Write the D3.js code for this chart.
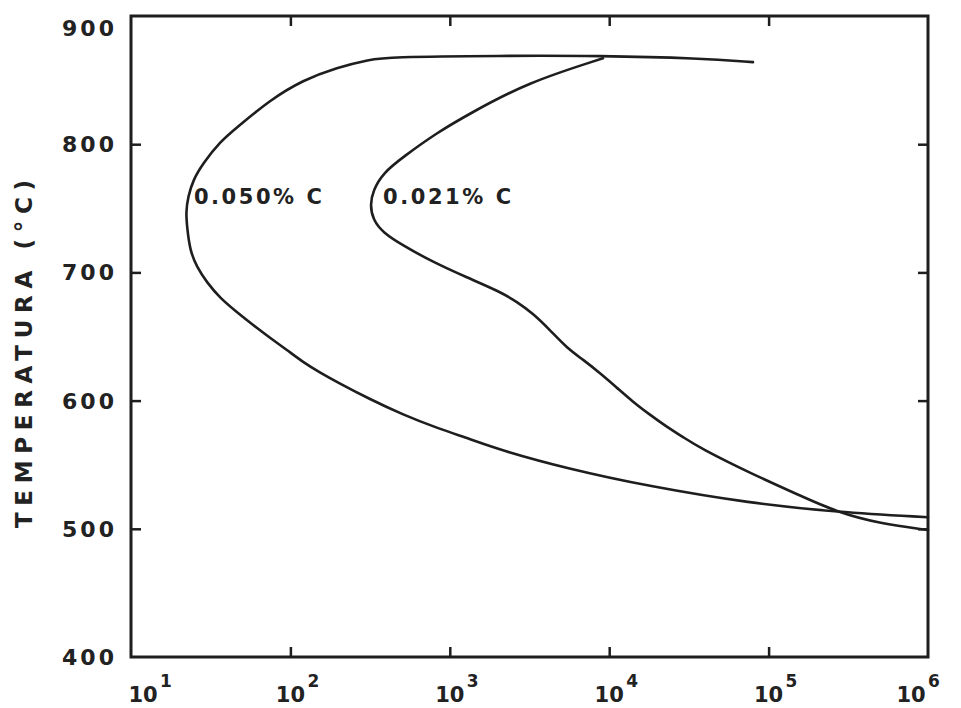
<!DOCTYPE html>
<html>
<head>
<meta charset="utf-8">
<script src="https://cdn.jsdelivr.net/npm/d3@7"></script>
<style>
  html, body { margin: 0; padding: 0; background: #fff; }
  svg { display: block; }
  text { font-family: "DejaVu Sans", "Liberation Sans", sans-serif; font-weight: bold; fill: #222; }
</style>
</head>
<body>
<svg id="chart" width="961" height="708"></svg>
<script>
// Isothermal transformation curves (time on a log scale, temperature in °C)
const xTicks = [1e1, 1e2, 1e3, 1e4, 1e5, 1e6];
const xTickExponents = ["1", "2", "3", "4", "5", "6"];
const yTicks = [400, 500, 600, 700, 800, 900];

const seriesNames = ["0.050% C", "0.021% C"];

// 0.050 % C
const times1 = [79800, 37150, 8750, 2065, 404, 316, 196, 120, 74.5, 46.2,
                36.2, 28.3, 24.5, 22.8, 22.1, 22.5, 23.4, 25.9, 30.0, 36.2,
                46.2, 58.3, 74.5, 95.2, 120, 153, 196, 316, 509, 831,
                1340, 2065, 5430, 18000, 76400, 268000, 1000000];
const temps1 = [864, 867, 869, 869, 868, 866, 860, 850, 834.5, 813,
                802, 785, 772, 759, 747, 735, 717.5, 704, 692, 680,
                669, 659, 649, 639.5, 630, 622, 614.5, 601, 589, 578.6,
                570, 561.5, 547, 533, 520, 513, 509];

// 0.021 % C
const times2 = [9140, 3050, 1340, 831, 509, 381, 330, 316, 330, 381,
                509, 785, 1282, 2065, 2640, 3325, 4255, 5430, 6850, 8750,
                11200, 14100, 18000, 23050, 29000, 37150, 76400, 157000, 268000, 500000,
                1000000];
const temps2 = [867, 848, 824, 809, 790, 777.5, 764, 752.6, 741, 731,
                721, 708, 696, 685, 677, 668, 655, 641, 632, 621.5,
                610, 599, 589, 579.4, 571.6, 563, 543.5, 526, 513, 504,
                499];

const labelTemp = 759;

const svg = d3.select("#chart");

const x = d3.scaleLog().domain([1e1, 1e6]).range([131, 928]);
const y = d3.scaleLinear().domain([400, 900]).range([657, 16]);

const ink = "#1e1e1e";

// frame
svg.append("rect")
  .attr("x", x.range()[0]).attr("y", y.range()[1])
  .attr("width", x.range()[1] - x.range()[0])
  .attr("height", y.range()[0] - y.range()[1])
  .attr("fill", "none").attr("stroke", ink).attr("stroke-width", 3);

// inward ticks on all four sides
const tickLen = 10;
const innerX = xTicks.slice(1, -1);
const innerY = yTicks.slice(1, -1);

svg.append("g").attr("transform", `translate(0,${y.range()[0]})`)
  .call(d3.axisBottom(x).tickValues(innerX).tickSize(-tickLen).tickFormat(""))
  .call(g => g.select(".domain").remove());
svg.append("g").attr("transform", `translate(0,${y.range()[1]})`)
  .call(d3.axisTop(x).tickValues(innerX).tickSize(-tickLen).tickFormat(""))
  .call(g => g.select(".domain").remove());
svg.append("g").attr("transform", `translate(${x.range()[0]},0)`)
  .call(d3.axisLeft(y).tickValues(innerY).tickSize(-tickLen).tickFormat(""))
  .call(g => g.select(".domain").remove());
svg.append("g").attr("transform", `translate(${x.range()[1]},0)`)
  .call(d3.axisRight(y).tickValues(innerY).tickSize(-tickLen).tickFormat(""))
  .call(g => g.select(".domain").remove());

svg.selectAll(".tick line").attr("stroke", ink).attr("stroke-width", 2.5);

// y tick labels
svg.append("g").selectAll("text")
  .data(yTicks)
  .join("text")
  .attr("x", x.range()[0] - 17)
  .attr("y", d => y(d) + (d === 900 ? 12 : 0))
  .attr("dy", "0.36em")
  .attr("text-anchor", "end")
  .attr("font-size", 22)
  .attr("textLength", 52)
  .attr("lengthAdjust", "spacing")
  .text(d => d);

// x tick labels: 10 with a superscript exponent
const xLab = svg.append("g").selectAll("g")
  .data(xTicks)
  .join("g")
  .attr("transform", (d, i) => {
    const shift = i === 0 ? 12 : (i === xTicks.length - 1 ? -17 : 0);
    return `translate(${x(d) + shift},0)`;
  });
xLab.append("text")
  .attr("x", 0).attr("y", 702)
  .attr("text-anchor", "middle")
  .attr("font-size", 21)
  .text("10");
xLab.append("text")
  .attr("x", 17).attr("y", 687)
  .attr("text-anchor", "start")
  .attr("font-size", 17)
  .text((d, i) => xTickExponents[i]);

// y axis title
svg.append("text")
  .attr("transform", `translate(32,354) rotate(-90)`)
  .attr("text-anchor", "middle")
  .attr("font-size", 23)
  .attr("textLength", 348)
  .attr("lengthAdjust", "spacing")
  .text("TEMPERATURA (°C)");

// curves (B-spline through the sampled points)
const line = d3.line()
  .x(d => x(d[0]))
  .y(d => y(d[1]))
  .curve(d3.curveBasis);

const series = [
  { name: seriesNames[0], pts: d3.zip(times1, temps1), dx: 8 },
  { name: seriesNames[1], pts: d3.zip(times2, temps2), dx: 13 }
];

svg.append("g").selectAll("path")
  .data(series)
  .join("path")
  .attr("d", d => line(d.pts))
  .attr("fill", "none")
  .attr("stroke", ink)
  .attr("stroke-width", 2.6)
  .attr("stroke-linejoin", "round")
  .attr("stroke-linecap", "round");

// curve labels beside each nose
svg.append("g").selectAll("text")
  .data(series)
  .join("text")
  .attr("x", d => x(d3.min(d.pts, p => p[0])) + d.dx)
  .attr("y", y(labelTemp))
  .attr("dy", "0.36em")
  .attr("font-size", 21)
  .attr("textLength", 128)
  .attr("lengthAdjust", "spacing")
  .text(d => d.name);
</script>
</body>
</html>
